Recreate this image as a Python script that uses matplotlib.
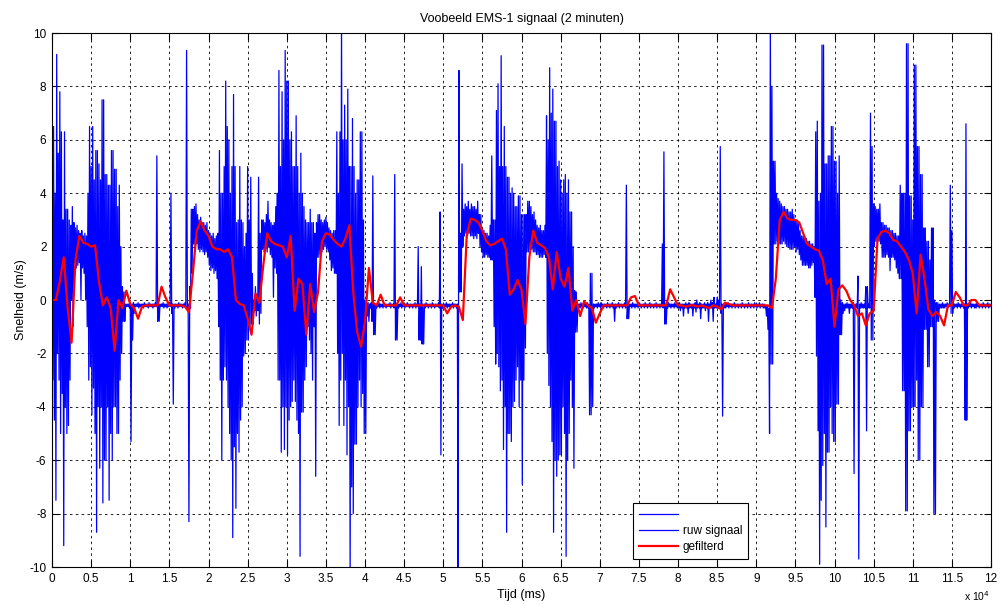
import matplotlib.pyplot as plt
import numpy as np

plt.rcParams['font.family'] = ['Liberation Sans', 'DejaVu Sans']

# ruw signaal (m/s): highest and lowest value in every 200 ms bin
bin_ms = 200
raw_hi = [
    8.7, 6.5, 4.0, 9.2, 5.5, 7.8, 6.3, 3.0, 6.3, 3.4,
    3.4, 3.0, 2.8, 3.5, 2.9, 2.7, 2.8, 2.6, 2.5, 2.6,
    2.4, 2.5, 2.4, 4.0, 6.5, 5.0, 6.5, 4.5, 5.6, 5.6,
    5.1, 4.5, 7.5, 7.5, 4.7, 4.7, 4.3, 4.3, 5.6, 5.6,
    4.9, 4.9, 3.5, 4.3, 2.0, 0.5, 0.3, -0.15, -0.15, -0.15,
    -0.15, -0.15, -0.1, -0.15, -0.15, -0.1, -0.15, -0.15, -0.15, -0.1,
    -0.15, -0.15, -0.1, -0.15, -0.15, -0.15, -0.1, 5.4, -0.15, -0.15,
    -0.15, -0.1, -0.15, -0.15, -0.15, -0.1, 4.0, -0.15, -0.15, -0.15,
    -0.15, -0.1, -0.15, -0.15, -0.15, -0.1, 9.35, -0.15, 0.5, 3.4,
    3.4, 3.5, 3.6, 3.2, 3.0, 3.1, 2.9, 2.9, 2.8, 2.9,
    2.6, 2.5, 2.4, 2.5, 2.3, 2.4, 2.5, 5.6, 4.0, 4.0,
    5.0, 8.2, 6.5, 6.0, 4.0, 5.0, 7.7, 5.0, 2.9, 3.0,
    5.0, 3.0, 2.9, 2.0, 2.5, 5.0, 3.0, 4.6, 1.0, 0.0,
    0.5, 0.2, 4.6, 2.5, 3.0, 3.0, 2.9, 3.2, 3.7, 3.0,
    2.9, 2.8, 2.9, 3.5, 4.0, 8.6, 5.0, 7.8, 6.0, 9.35,
    8.2, 8.2, 6.0, 6.3, 5.0, 5.0, 6.9, 5.0, 4.0, 5.5,
    4.0, 3.5, 3.0, 2.9, 2.9, 3.4, 2.9, 2.9, 2.5, 2.9,
    3.2, 3.2, 3.0, 2.9, 3.0, 3.1, 2.9, 2.7, 2.6, 2.5,
    2.6, 2.6, 6.3, 4.0, 6.3, 10.5, 6.0, 7.3, 6.0, 7.9,
    5.0, 5.0, 6.8, 5.0, 4.0, 4.5, 4.5, 6.3, 6.3, 3.0,
    0.0, -0.1, -0.1, -0.15, -0.1, 4.65, -0.15, -0.15, -0.15, -0.1,
    -0.15, -0.15, -0.1, -0.15, -0.15, -0.15, -0.1, -0.15, -0.15, 4.7,
    -0.15, -0.15, -0.15, -0.1, -0.15, -0.15, -0.15, -0.1, -0.15, -0.15,
    -0.15, -0.15, -0.1, -0.15, 2.0, -0.15, 1.25, -0.15, -0.15, -0.1,
    -0.15, -0.15, -0.15, -0.1, -0.15, -0.15, -0.15, -0.1, 3.3, -0.15,
    -0.15, -0.15, -0.1, -0.15, -0.15, -0.15, -0.1, -0.15, -0.15, -0.15,
    8.6, 2.5, 5.1, 3.4, 3.6, 3.5, 3.7, 3.4, 3.6, 3.5,
    3.5, 3.4, 3.7, 3.2, 3.2, 2.6, 2.6, 2.5, 2.5, 2.4,
    2.8, 5.4, 3.0, 3.0, 7.1, 8.1, 5.0, 9.15, 5.0, 6.5,
    5.0, 4.6, 4.6, 4.0, 4.2, 4.0, 3.5, 3.5, 3.9, 3.9,
    3.2, 3.2, 3.2, 3.2, 3.7, 3.7, 3.5, 3.2, 3.3, 3.0,
    2.8, 2.7, 2.8, 2.6, 2.6, 2.8, 6.9, 6.0, 8.7, 7.0,
    7.9, 6.7, 6.7, 5.0, 5.2, 4.5, 4.0, 4.5, 4.7, 4.0,
    4.5, 3.3, 3.3, 2.0, 0.35, 0.3, -0.15, -0.15, -0.1, -0.15,
    -0.15, -0.15, -0.1, -0.15, 1.0, 1.0, -0.15, -0.15, -0.15, -0.1,
    -0.15, -0.1, -0.15, -0.15, -0.15, -0.1, -0.15, -0.15, -0.1, -0.15,
    -0.15, -0.15, -0.1, -0.15, -0.15, -0.15, -0.1, 4.3, -0.15, -0.15,
    -0.15, -0.1, -0.15, -0.15, -0.15, -0.1, -0.15, -0.15, -0.15, -0.1,
    -0.15, -0.15, -0.1, -0.15, -0.15, -0.15, -0.1, -0.15, -0.15, -0.15,
    2.1, 5.55, -0.15, -0.15, -0.1, -0.15, -0.15, -0.15, -0.1, -0.15,
    -0.15, -0.1, -0.15, -0.15, -0.15, -0.1, -0.15, -0.1, -0.15, -0.15,
    -0.15, -0.1, 0.0, -0.15, -0.1, -0.15, -0.15, -0.1, -0.15, -0.1,
    -0.15, 0.0, -0.1, 0.1, -0.15, 0.1, 0.0, 5.75, -0.15, -0.15,
    -0.15, -0.15, -0.1, -0.15, -0.15, -0.15, -0.1, -0.15, -0.15, -0.15,
    -0.15, -0.1, -0.15, -0.15, -0.15, -0.1, -0.15, -0.15, -0.15, -0.1,
    -0.15, -0.15, -0.1, -0.15, -0.15, -0.15, -0.2, -0.2, -0.3, 10.5,
    8.0, 5.2, 5.2, 4.0, 3.8, 3.7, 3.6, 3.5, 3.5, 3.4,
    3.4, 3.3, 3.3, 3.4, 3.2, 3.0, 3.0, 2.9, 2.6, 2.4,
    2.4, 2.3, 2.3, 2.2, 2.2, 2.1, 2.1, 2.0, 6.3, 6.7,
    3.7, 4.0, 9.55, 9.55, 5.1, 5.1, 5.4, 5.4, 6.5, 6.5,
    5.2, 5.2, 4.0, 5.4, 0.0, -0.1, -0.15, -0.15, -0.1, -0.15,
    -0.15, -0.15, -0.1, -0.15, -0.15, 0.9, -0.15, -0.1, -0.15, -0.15,
    0.5, 0.5, -0.15, 7.0, 5.75, 3.6, 3.5, 3.4, 3.4, 3.6,
    2.9, 2.9, 2.8, 2.8, 2.7, 2.7, 2.6, 2.6, 2.5, 2.5,
    2.4, 2.4, 4.3, 4.0, 4.0, 4.0, 9.6, 9.6, 3.9, 3.9,
    3.0, 8.8, 8.8, 5.75, 5.75, 4.7, 4.7, 2.7, 2.7, 2.2,
    2.2, 1.5, 2.7, 2.7, 0.0, -0.1, -0.1, -0.15, -0.15, -0.1,
    -0.15, -0.15, -0.1, -0.15, 4.3, 2.6, -0.1, -0.15, -0.15, -0.1,
    -0.15, -0.15, -0.1, -0.15, 6.6, -0.15, -0.15, -0.1, -0.15, -0.15,
    -0.15, -0.1, -0.15, -0.15, -0.15, -0.1, -0.15, -0.15, -0.1, -0.15,
    -0.15,
]
raw_lo = [
    -3.0, -4.5, -7.5, -2.0, -3.0, -5.0, -3.5, -9.2, -4.0, -5.0,
    -4.7, -3.0, 0.0, -1.0, 1.4, 1.2, 1.3, 1.4, 0.0, 1.2,
    1.0, 0.0, -1.0, -3.0, -2.5, -4.3, -3.3, -5.0, -8.7, -4.0,
    -6.3, -4.0, -7.6, -6.0, -6.0, -4.0, -7.5, -5.0, -6.0, -4.0,
    -4.0, -5.0, -5.0, -3.0, -2.0, -0.8, -0.8, -0.25, -0.25, -0.3,
    -5.3, -1.5, -0.5, -0.25, -0.25, -0.3, -0.25, -0.25, -0.3, -0.25,
    -0.25, -0.3, -0.25, -0.25, -0.3, -0.25, -0.25, -0.8, -0.8, -0.25,
    -0.25, -0.3, -0.25, -0.3, -0.25, -0.25, -0.5, -3.9, -0.3, -0.25,
    -0.3, -0.25, -0.25, -0.3, -0.25, -0.3, -0.3, -8.3, -0.3, 1.0,
    2.1, 2.0, 2.1, 1.9, 1.8, 1.9, 1.8, 1.7, 1.8, 1.6,
    1.3, 1.1, 1.2, 1.0, 1.1, 0.8, -1.0, -3.0, -6.0, -3.0,
    -2.5, -3.0, -4.0, -5.0, -6.0, -8.9, -5.5, -7.8, -5.0, -5.7,
    -4.5, -4.0, -2.1, -2.0, -1.5, -1.5, -1.0, -0.9, -0.9, -0.4,
    -0.6, -0.4, -0.9, -0.5, 1.9, 1.8, 1.9, 1.8, 2.0, 1.7,
    1.6, 0.1, 1.2, 1.0, -3.0, -3.0, -5.7, -4.0, -5.6, -4.0,
    -5.8, -4.5, -4.0, -3.8, -3.0, -3.8, -4.5, -5.0, -9.6, -4.2,
    -4.2, -3.0, -2.5, -1.0, -1.5, -2.0, -3.0, -1.0, -6.6, 1.6,
    1.6, 1.7, 1.8, 1.9, 2.0, 1.9, 1.8, 1.5, 1.1, 1.2,
    1.0, 1.0, -2.0, -4.7, -3.0, -2.0, -4.7, -3.0, -5.8, -4.0,
    -10.5, -7.0, -8.0, -5.4, -5.4, -4.0, -3.0, -4.0, -3.5, -5.0,
    -5.0, -0.6, -0.8, -0.3, -0.8, -1.3, -1.3, -0.3, -0.25, -0.3,
    -0.25, -0.3, -0.25, -0.3, -0.25, -0.25, -0.3, -0.25, -0.3, -1.5,
    -1.5, -0.3, -0.25, -0.3, -0.25, -0.3, -0.25, -0.25, -0.3, -0.25,
    -0.3, -0.25, -0.3, -0.25, -1.5, -1.5, -1.65, -1.65, -0.3, -0.25,
    -0.3, -0.25, -0.3, -0.25, -0.3, -0.25, -0.25, -0.3, -5.8, -0.3,
    -0.3, -0.25, -0.3, -0.25, -0.3, -0.25, -0.3, -0.25, -0.3, -10.5,
    0.3, 0.3, 2.0, 2.4, 2.5, 2.4, 2.5, 2.4, 2.4, 2.3,
    2.4, 2.3, 2.5, 2.0, 1.8, 1.6, 1.6, 1.7, 1.6, 1.6,
    1.5, 1.5, -1.0, -2.4, -2.0, -2.5, -3.4, -3.0, -5.6, -4.0,
    -8.7, -5.0, -5.0, -5.3, -4.0, -3.8, -3.0, -2.5, -4.0, -3.0,
    -6.9, -3.0, -1.8, 1.8, 1.8, 1.9, 1.9, 1.8, 1.8, 1.7,
    1.7, 1.6, 1.6, 1.6, 1.7, 1.6, -2.0, -3.2, -4.0, -5.3,
    -8.7, -6.0, -6.6, -6.0, -5.8, -5.8, -4.0, -5.0, -9.6, -6.0,
    -5.0, -3.0, -4.0, -6.3, -1.2, -1.2, -0.3, -0.3, -0.25, -0.3,
    -0.25, -0.3, -0.3, -4.3, -4.3, -4.0, -0.3, -0.25, -0.3, -0.25,
    -0.3, -0.25, -0.3, -0.25, -0.3, -0.25, -0.3, -0.25, -0.3, -0.8,
    -0.3, -0.25, -0.3, -0.25, -0.3, -0.25, -0.3, -0.7, -0.7, -0.25,
    -0.3, -0.25, -0.3, -0.25, -0.3, -0.25, -0.3, -0.25, -0.3, -0.25,
    -0.3, -0.25, -0.3, -0.25, -0.3, -0.25, -0.3, -0.25, -0.3, -0.25,
    -0.3, -0.9, -0.9, -0.3, -0.25, -0.3, -0.25, -0.3, -0.25, -0.3,
    -0.3, -0.4, -0.3, -0.6, -0.3, -0.3, -0.5, -0.3, -0.3, -0.6,
    -0.3, -0.45, -0.3, -0.3, -0.7, -0.3, -0.3, -0.4, -0.3, -0.8,
    -0.3, -0.3, -0.8, -0.3, -0.3, -0.3, -0.3, -0.5, -4.35, -0.3,
    -0.3, -0.25, -0.3, -0.25, -0.3, -0.25, -0.3, -0.25, -0.3, -0.25,
    -0.3, -0.25, -0.3, -0.25, -0.3, -0.25, -0.3, -0.25, -0.3, -0.25,
    -0.3, -0.25, -0.3, -0.25, -0.3, -0.3, -0.6, -1.1, -5.0, -2.4,
    -2.4, 2.1, 2.1, 2.2, 2.1, 2.1, 2.1, 2.2, 2.1, 2.0,
    2.0, 1.9, 1.9, 1.9, 2.0, 1.8, 1.9, 1.7, 1.5, 1.3,
    1.3, 1.3, 1.3, 1.2, 1.2, 1.3, 1.4, 0.1, -2.1, -4.9,
    -9.9, -7.5, -6.2, -5.0, -8.5, -5.7, -5.7, -4.0, -5.0, -5.3,
    -5.3, -3.9, -3.9, -1.3, -1.3, -0.5, -0.4, -0.3, -0.3, -0.5,
    -0.3, -0.3, -6.5, -0.3, -0.3, -9.7, -0.3, -0.3, -0.3, -0.3,
    -4.9, -0.3, -0.3, -1.5, -1.5, 2.0, 2.2, 2.2, 2.2, 2.1,
    1.6, 1.6, 1.6, 1.7, 1.6, 1.1, 1.6, 1.6, 1.5, 1.2,
    1.0, 0.8, 0.8, -3.4, -3.4, -7.9, -7.9, -4.9, -4.9, -4.0,
    -4.0, -4.0, -3.0, -6.0, -6.0, -4.0, -4.0, -1.1, -1.1, -2.5,
    -2.5, -1.0, -1.0, -8.0, -8.0, -0.8, -0.8, -0.3, -0.3, -0.3,
    -0.3, -0.25, -0.3, -0.25, -0.5, -0.5, -0.3, -0.25, -0.3, -0.25,
    -0.3, -0.25, -0.3, -4.5, -4.5, -0.3, -0.25, -0.3, -0.25, -0.3,
    -0.3, -0.25, -0.3, -0.25, -0.3, -0.25, -0.3, -0.25, -0.3, -0.25,
    -0.3,
]

# gefilterd signaal (m/s), one value every 500 ms
filt_step = 500
filt = [
    0.0, 0.0, 0.7, 1.6, -0.3, -1.6, 1.5, 2.4, 2.15, 2.1,
    2.0, 2.05, 0.7, -0.2, 0.1, -0.3, -1.9, 0.0, -0.3, 0.35,
    -0.15, -0.3, -0.7, -0.25, -0.2, -0.2, -0.2, -0.2, 0.5, 0.1,
    -0.2, -0.2, -0.2, -0.2, -0.25, -0.45, 1.0, 2.6, 2.95, 2.6,
    2.4, 2.0, 1.9, 1.9, 1.8, 1.9, 1.6, 0.0, -0.15, -0.2,
    -0.7, -1.3, 0.25, -0.1, 1.3, 2.5, 2.2, 2.1, 2.05, 2.0,
    1.6, 2.4, -0.4, 0.8, 0.6, -1.3, 0.6, -0.45, 0.3, 2.2,
    2.5, 2.45, 2.25, 2.1, 2.0, 2.3, 2.8, 0.3, -1.2, -1.75,
    -0.8, 1.2, -0.1, -0.2, 0.2, -0.2, -0.2, -0.2, -0.2, 0.1,
    -0.2, -0.2, -0.2, -0.2, -0.2, -0.2, -0.2, -0.2, -0.2, -0.2,
    -0.2, -0.5, -0.25, -0.2, -0.25, -0.75, 2.4, 3.05, 3.0, 2.9,
    2.6, 2.2, 2.05, 2.1, 2.2, 2.3, 1.9, 0.2, 0.4, 0.75,
    0.4, -0.9, 1.6, 2.6, 2.15, 2.05, 1.95, 1.6, 0.4, 1.8,
    0.8, 0.5, 1.2, -0.4, 0.0, -0.6, -0.05, -0.2, -0.3, -0.85,
    -0.5, -0.2, -0.2, -0.2, -0.2, -0.2, -0.2, -0.2, 0.1, 0.15,
    -0.2, -0.2, -0.2, -0.2, -0.2, -0.2, -0.2, -0.2, 0.4, 0.1,
    -0.2, -0.2, -0.25, -0.2, -0.2, -0.25, -0.2, -0.25, -0.3, -0.2,
    -0.25, -0.35, -0.1, -0.15, -0.2, -0.2, -0.2, -0.2, -0.2, -0.2,
    -0.2, -0.2, -0.2, -0.2, -0.3, 0.8, 3.0, 3.3, 3.05, 3.0,
    3.0, 2.9, 2.5, 2.1, 2.0, 1.9, 1.85, 1.5, 0.6, 0.8,
    -1.0, 0.4, 0.55, 0.35, 0.0, -0.2, -0.6, -0.5, -0.95, -0.5,
    -0.4, 2.3, 2.55, 2.6, 2.5, 2.25, 2.2, 2.0, 1.8, 1.5,
    1.0, -0.5, 1.7, 0.8, -0.35, -0.6, -0.45, -0.6, -0.95, -0.2,
    -0.2, 0.3, 0.1, -0.2, -0.2, 0.0, 0.0, -0.2, -0.2, -0.2,
    -0.2,
]

xticks = np.arange(0, 120001, 5000)
yticks = np.arange(-10, 11, 2)

# the raw trace runs through the high and low value of each bin in turn
t_bins = np.arange(len(raw_hi)) * bin_ms
t_raw = np.column_stack([t_bins, t_bins + bin_ms / 2]).ravel()
v_raw = np.column_stack([raw_hi, raw_lo]).ravel()
t_filt = np.arange(len(filt)) * filt_step

fig = plt.figure(figsize=(10, 6.05), dpi=100)
ax = fig.add_axes([0.052, 0.0628, 0.939, 0.8826])

raw_line, = ax.plot(t_raw, v_raw, color='#0000ff', lw=0.9)
filt_line, = ax.plot(t_filt, filt, color='#ff0000', lw=1.6)

ax.set_xlim(0, 120000)
ax.set_ylim(-10, 10)
ax.set_xticks(xticks)
ax.set_xticklabels([f"{v / 1e4:g}" for v in xticks])
ax.set_yticks(yticks)
ax.set_yticklabels([str(v) for v in yticks])
ax.tick_params(direction='in', length=5, top=True, right=True,
               labelsize=8.5, width=0.8, pad=4)
ax.grid(True, color='black', linestyle=(0, (3, 4)), linewidth=0.6)
for s in ax.spines.values():
    s.set_linewidth(0.8)

ax.set_title('Voobeeld EMS-1 signaal (2 minuten)', fontsize=9, pad=8)
ax.set_xlabel('Tijd (ms)', fontsize=9, labelpad=3)
ax.set_ylabel('Snelheid (m/s)', fontsize=9, labelpad=2)
fig.text(0.99, 0.004, r'x 10$^4$', fontsize=7.5, ha='right', va='bottom')

leg = ax.legend([raw_line, raw_line, filt_line], ['', 'ruw signaal', 'gefilterd'],
                loc='lower left', bbox_to_anchor=(0.619, 0.015),
                fontsize=8.5, handlelength=3.3, labelspacing=0.35,
                fancybox=False, framealpha=1, edgecolor='black',
                borderpad=0.5, handletextpad=0.4, borderaxespad=0)
leg.get_frame().set_linewidth(0.8)

fig.savefig('out.png', dpi=100)
